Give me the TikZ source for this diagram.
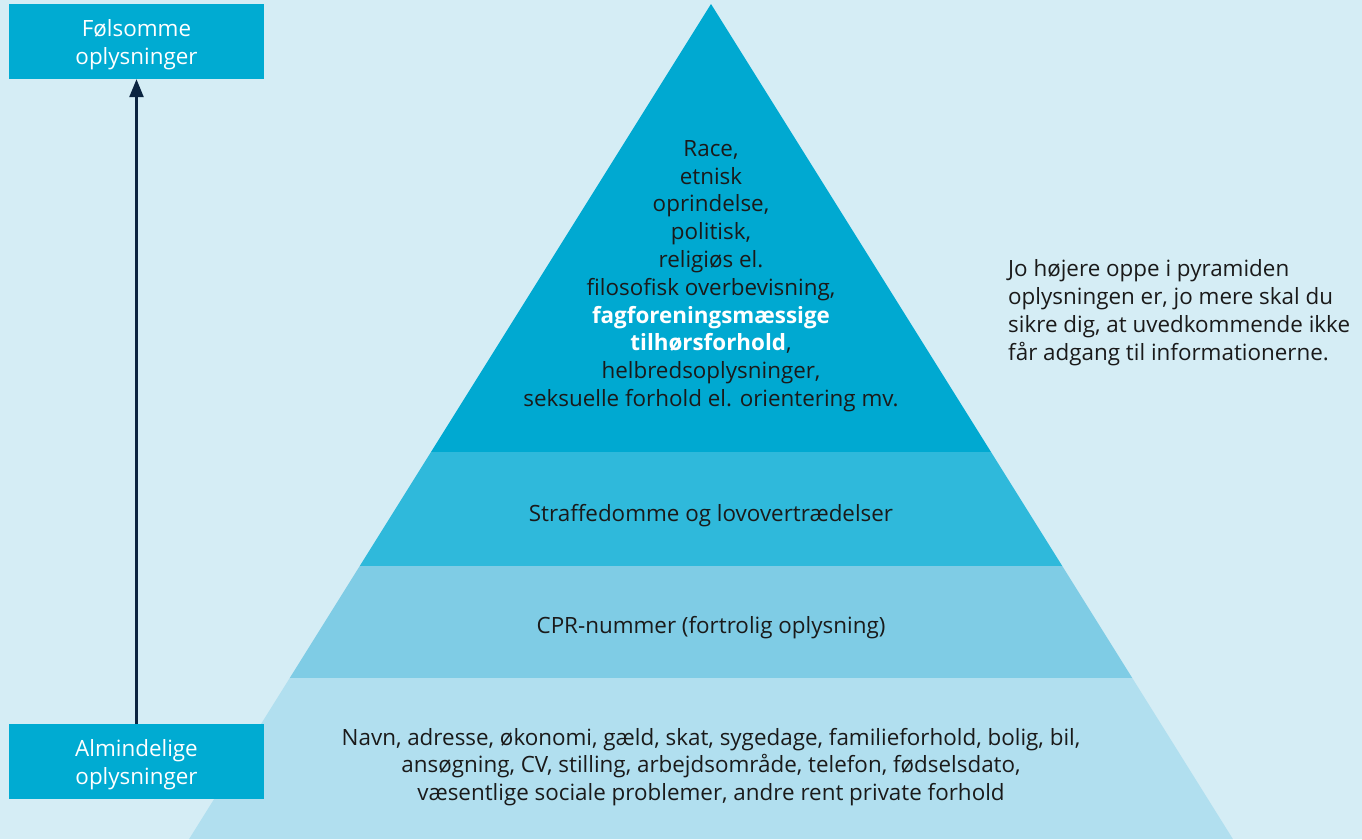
\documentclass[tikz,border=0pt]{standalone}
\usepackage{fontspec}
\setmainfont{Open Sans}
\usetikzlibrary{arrows.meta}

\definecolor{bgblue}{HTML}{D5EDF5}
\definecolor{boxblue}{HTML}{00ABD2}
\definecolor{layerA}{HTML}{00A9D1}
\definecolor{layerB}{HTML}{2FB9DB}
\definecolor{layerC}{HTML}{7FCCE5}
\definecolor{layerD}{HTML}{B1DFEF}
\definecolor{arrowdark}{HTML}{0B2440}
\definecolor{textdark}{HTML}{1A1A1A}

\tikzset{
  levelbox/.style={fill=boxblue, minimum width=255pt, minimum height=75pt, inner sep=0pt},
  levellabel/.style={text=white, align=center, inner sep=0pt, font=\fontsize{22.4}{28}\selectfont},
  layertext/.style={align=center, text=textdark, inner sep=0pt, font=\fontsize{22.4}{27.8}\selectfont},
  notetext/.style={align=left, text=textdark, inner sep=0pt, anchor=west, font=\fontsize{22.4}{28}\selectfont},
}

\begin{document}
\begin{tikzpicture}[x=1pt, y=-1pt]
    % background
    \fill[bgblue] (0,0) rectangle (1362,839);
    \useasboundingbox (0,0) rectangle (1362,839);

    % pyramid layers
    \fill[layerA] (711,4) -- ({711+(452-4)*0.625},452) -- ({711-(452-4)*0.625},452) -- cycle;
    \foreach \a/\b/\c in {452/566/layerB, 566/678/layerC, 678/839/layerD} {
      \fill[\c] ({711-(\a-4)*0.625},\a) -- ({711+(\a-4)*0.625},\a)
        -- ({711+(\b-4)*0.625},\b) -- ({711-(\b-4)*0.625},\b) -- cycle;
    }

    % layer texts
    \node[layertext] (toptext) at (711,276) {Race,\\etnisk\\oprindelse,\\politisk,\\religiøs el.\\filosofisk overbevisning,\\
      \textcolor{white}{\bfseries fagforeningsmæssige}\\\textcolor{white}{\bfseries tilhørsforhold},\\
      helbredsoplysninger,\\seksuelle forhold el. orientering mv.};
    \node[layertext] (straf) at (711,516) {Straffedomme og lovovertrædelser};
    \node[layertext] (cpr) at (711,628) {CPR-nummer (fortrolig oplysning)};
    \node[layertext] (navn) at (711,767) {Navn, adresse, økonomi, gæld, skat, sygedage, familieforhold, bolig, bil,\\
      ansøgning, CV, stilling, arbejdsområde, telefon, fødselsdato,\\
      væsentlige sociale problemer, andre rent private forhold};

    % side note
    \node[notetext] (note) at (1008,313) {Jo højere oppe i pyramiden\\oplysningen er, jo mere skal du\\
      sikre dig, at uvedkommende ikke\\får adgang til informationerne.};

    % scale
    \node[levelbox] (folsomme) at (136.5,41.5) {};
    \node[levellabel] (folsommetext) at ([yshift=-3pt]folsomme.center) {Følsomme\\oplysninger};
    \node[levelbox] (almindelige) at (136.5,761.5) {};
    \node[levellabel] (almindeligetext) at ([yshift=-3pt]almindelige.center) {Almindelige\\oplysninger};
    \draw[arrowdark, line width=2.5pt, -{Triangle[length=18pt,width=14pt]}] (almindelige) -- (folsomme);
  \end{tikzpicture}
\end{document}
